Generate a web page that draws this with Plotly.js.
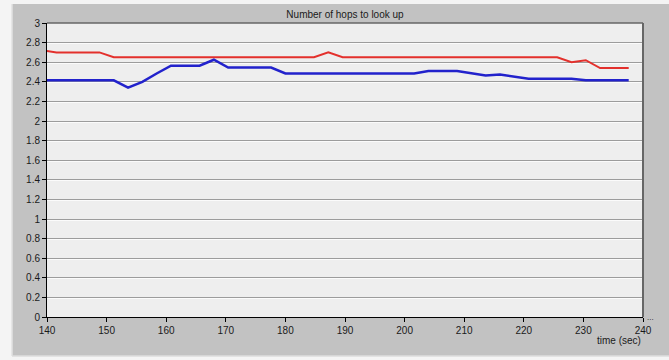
<!DOCTYPE html>
<html>
<head>
<meta charset="utf-8">
<script src="https://cdn.plot.ly/plotly-3.0.1.min.js"></script>
<style>html,body{margin:0;padding:0;background:#f4f4f4;}#chart{width:669px;height:360px;}</style>
</head>
<body>
<div id="chart"></div>
<script>
// Data
const redTime = [139.2, 141.6, 148.8, 151.2, 184.8, 187.2, 189.6, 225.6, 228.0, 230.4, 232.8, 237.6];
const redHops = [2.72, 2.70, 2.70, 2.65, 2.65, 2.70, 2.65, 2.65, 2.60, 2.62, 2.54, 2.54];
const blueTime = [139.2, 151.2, 153.6, 156.0, 158.4, 160.8, 165.6, 168.0, 170.4, 177.6, 180.0, 201.6, 204.0, 208.8, 213.6, 216.0, 220.8, 228.0, 230.4, 237.6];
const blueHops = [2.415, 2.415, 2.34, 2.40, 2.485, 2.565, 2.565, 2.625, 2.545, 2.545, 2.485, 2.485, 2.51, 2.51, 2.465, 2.475, 2.43, 2.43, 2.415, 2.415];
const chartTitle = 'Number of hops to look up';
const xTitle = 'time (sec)';

const FONT = 'Liberation Sans, Arial, sans-serif';

const traces = [
  {x: redTime, y: redHops, type: 'scatter', mode: 'lines', line: {color: '#e3302c', width: 2}, hoverinfo: 'skip'},
  {x: blueTime, y: blueHops, type: 'scatter', mode: 'lines', line: {color: '#2222cc', width: 2.5}, hoverinfo: 'skip'},
  {x: [], y: [], type: 'scatter', mode: 'lines', yaxis: 'y2', hoverinfo: 'skip'}
];

const layout = {
  width: 669, height: 360,
  margin: {l: 47, r: 26, t: 23, b: 43},
  paper_bgcolor: '#c2c2c2',
  plot_bgcolor: '#eeeeee',
  showlegend: false,
  font: {family: FONT, size: 10, color: '#1a1a1a'},
  title: {text: chartTitle, font: {family: FONT, size: 10, color: '#1a1a1a'}, x: 0.5, xref: 'paper', xanchor: 'center', y: 1 - 14.5/360, yref: 'container', yanchor: 'middle'},
  xaxis: {
    range: [140, 240], tick0: 140, dtick: 10, showgrid: false, zeroline: false,
    showline: true, linecolor: '#000', linewidth: 1,
    ticks: 'outside', ticklen: 4, tickcolor: '#000', tickwidth: 1,
    tickfont: {family: FONT, size: 10, color: '#1a1a1a'}
  },
  yaxis: {
    range: [0, 3], tick0: 0, dtick: 0.2, showgrid: true, gridcolor: '#9c9c9c', gridwidth: 1, zeroline: false,
    showline: true, linecolor: '#000', linewidth: 1,
    ticks: 'outside', ticklen: 4, tickcolor: '#000', tickwidth: 1,
    tickfont: {family: FONT, size: 10, color: '#1a1a1a'}
  },
  yaxis2: {
    overlaying: 'y', range: [0.0102, 3.0102], tick0: 0, dtick: 0.2, showgrid: true, gridcolor: '#fbfbfb', gridwidth: 1,
    zeroline: false, showline: false, showticklabels: false, ticks: ''
  },
  shapes: [
    // light surround outside the grey panel (left, top, bottom strips)
    {type: 'rect', xref: 'paper', yref: 'paper', x0: -0.2, x1: -0.0587, y0: -0.3, y1: 1.3, layer: 'below', fillcolor: '#f4f4f4', line: {width: 0}},
    {type: 'rect', xref: 'paper', yref: 'paper', x0: -0.2, x1: 1.2, y0: 1.0646, y1: 1.3, layer: 'below', fillcolor: '#f4f4f4', line: {width: 0}},
    {type: 'rect', xref: 'paper', yref: 'paper', x0: -0.2, x1: 1.2, y0: -0.3, y1: -0.1327, layer: 'below', fillcolor: '#f4f4f4', line: {width: 0}},
    {type: 'line', xref: 'paper', yref: 'paper', x0: -0.0587, x1: -0.0587, y0: -0.1327, y1: 1.0646, layer: 'below', line: {color: '#e2e2e2', width: 1.5}},
    {type: 'line', xref: 'paper', yref: 'paper', x0: -0.0587, x1: 1.2, y0: -0.1327, y1: -0.1327, layer: 'below', line: {color: '#dcdcdc', width: 1.5}},
    // darker plot frame on top and right
    {type: 'line', xref: 'paper', yref: 'paper', x0: 1, x1: 1, y0: 0, y1: 1, layer: 'above', line: {color: '#666', width: 2}},
    {type: 'line', xref: 'paper', yref: 'paper', x0: 0, x1: 1, y0: 1, y1: 1, layer: 'above', line: {color: '#666', width: 1.5}}
  ],
  annotations: [
    {text: xTitle, xref: 'paper', yref: 'paper', x: 1, xanchor: 'right', y: -0.08, yanchor: 'middle', showarrow: false, font: {family: FONT, size: 10, color: '#1a1a1a'}},
    {text: '...', xref: 'paper', yref: 'paper', x: 1, xanchor: 'left', xshift: 2, y: 0, yanchor: 'middle', yshift: 0, showarrow: false, font: {family: FONT, size: 8, color: '#1a1a1a'}}
  ]
};

Plotly.newPlot('chart', traces, layout, {staticPlot: true, displayModeBar: false});
</script>
</body>
</html>
